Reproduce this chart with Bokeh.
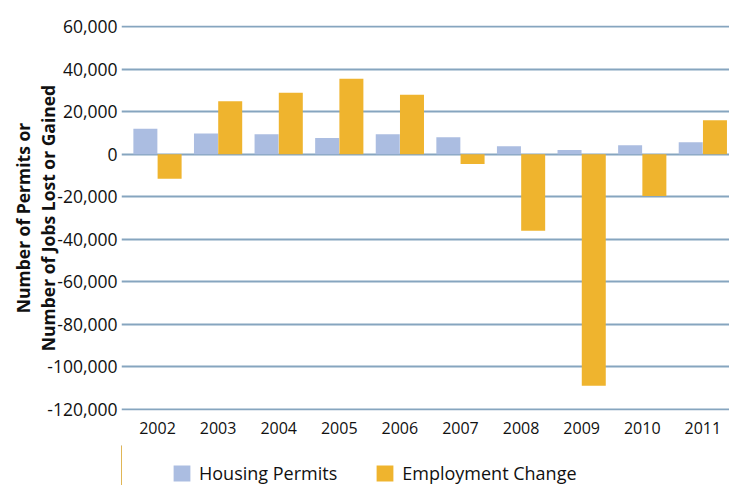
from bokeh.plotting import figure
from bokeh.layouts import column
from bokeh.models import (ColumnDataSource, Range1d, FixedTicker, Legend, LegendItem,
                          NumeralTickFormatter)
from bokeh.transform import dodge
from bokeh.embed import file_html
from bokeh.resources import INLINE

years = ["2002", "2003", "2004", "2005", "2006", "2007", "2008", "2009", "2010", "2011"]
housing_permits = [12000, 9800, 9400, 7600, 9400, 8000, 3800, 2000, 4200, 5700]
employment_change = [-11500, 25000, 29000, 35500, 28000, -4600, -36000, -109000, -19700, 16000]
y_ticks = [60000, 40000, 20000, 0, -20000, -40000, -60000, -80000, -100000, -120000]
y_title = "Number of Permits or\nNumber of Jobs Lost or Gained"
series_names = ["Housing Permits", "Employment Change"]

FONT = "Open Sans"
BLUE = "#abbde1"
ORANGE = "#efb42e"
GRID = "#86a5bf"
TXT = "#111111"

idx = list(range(len(years)))
src = ColumnDataSource(dict(x=idx, permits=housing_permits, jobs=employment_change))

p = figure(frame_width=608, frame_height=385, output_backend="svg", toolbar_location=None,
           x_range=Range1d(-0.594, 9.44), y_range=Range1d(-120600, 60600))
p.min_border_left = 121
p.min_border_right = 0
p.min_border_top = 25
p.min_border_bottom = 35
p.outline_line_color = None
p.background_fill_color = "white"
p.border_fill_color = "white"

p.vbar(x=dodge("x", -0.2, range=p.x_range), top="permits", width=0.396,
       source=src, fill_color=BLUE, line_color=None)
p.vbar(x=dodge("x", 0.2, range=p.x_range), top="jobs", width=0.396,
       source=src, fill_color=ORANGE, line_color=None)

p.xgrid.visible = False
p.ygrid.grid_line_color = GRID
p.ygrid.grid_line_width = 2
p.ygrid.ticker = FixedTicker(ticks=y_ticks)

p.yaxis.ticker = FixedTicker(ticks=y_ticks)
p.yaxis.formatter = NumeralTickFormatter(format="0,0")
p.yaxis.axis_line_color = None
p.yaxis.major_tick_line_color = None
p.yaxis.minor_tick_line_color = None
p.yaxis.major_tick_out = 0
p.yaxis.major_tick_in = 0
p.yaxis.minor_tick_out = 0
p.yaxis.major_label_text_font = FONT
p.yaxis.major_label_text_font_size = "17.5px"
p.yaxis.major_label_text_color = TXT
p.yaxis.major_label_standoff = 4
p.yaxis.axis_label = y_title
p.yaxis.axis_label_text_font = FONT
p.yaxis.axis_label_text_font_style = "bold"
p.yaxis.axis_label_text_font_size = "17.5px"
p.yaxis.axis_label_text_line_height = 1.05
p.yaxis.axis_label_text_color = TXT
p.yaxis.axis_label_standoff = -16

p.xaxis.ticker = FixedTicker(ticks=idx)
p.xaxis.major_label_overrides = {i: y for i, y in enumerate(years)}
p.xaxis.axis_line_color = None
p.xaxis.major_tick_line_color = None
p.xaxis.minor_tick_line_color = None
p.xaxis.major_tick_out = 0
p.xaxis.major_tick_in = 0
p.xaxis.minor_tick_out = 0
p.xaxis.major_label_text_font = FONT
p.xaxis.major_label_text_font_size = "16px"
p.xaxis.major_label_text_color = TXT
p.xaxis.major_label_standoff = 11

# legend strip below the chart (its bars lie outside its visible range;
# they only supply the legend swatches)
pl = figure(frame_width=729, frame_height=40, output_backend="svg", toolbar_location=None,
            x_range=Range1d(100, 101), y_range=Range1d(100, 101),
            x_axis_type=None, y_axis_type=None)
pl.min_border_left = 0
pl.min_border_right = 0
pl.min_border_top = 0
pl.min_border_bottom = 0
pl.outline_line_color = None
pl.xgrid.visible = False
pl.ygrid.visible = False
lr1 = pl.vbar(x="x", top="permits", width=0.396, source=src, fill_color=BLUE, line_color=None)
lr2 = pl.vbar(x="x", top="jobs", width=0.396, source=src, fill_color=ORANGE, line_color=None)

legend = Legend(items=[LegendItem(label=series_names[0], renderers=[lr1]),
                       LegendItem(label=series_names[1], renderers=[lr2])],
                orientation="horizontal", location=(171, 0))
legend.label_text_font = FONT
legend.label_text_font_size = "18px"
legend.label_text_color = TXT
legend.glyph_width = 21
legend.glyph_height = 20
legend.label_standoff = 7
legend.spacing = 37
legend.padding = 0
legend.margin = 0
legend.border_line_color = None
legend.background_fill_alpha = 0
pl.add_layout(legend, "center")

layout = column(p, pl, spacing=0)
open("out.html", "w").write(file_html(layout, INLINE))
